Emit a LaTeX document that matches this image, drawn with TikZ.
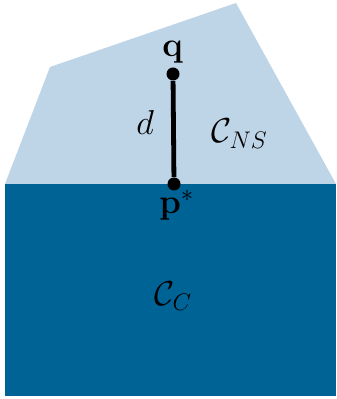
\documentclass[tikz,border=0pt]{standalone}
\usepackage{amsmath,amssymb}
\definecolor{lightreg}{RGB}{190,212,231}
\definecolor{darkreg}{RGB}{0,99,150}
\begin{document}
\begin{tikzpicture}[x=0.5pt,y=-0.5pt,
  lbl/.style={inner sep=0pt,anchor=base west,font=\fontsize{17.5}{21}\selectfont},
  dotpt/.style={circle,fill=black,inner sep=0pt,minimum size=6.5pt}]
\useasboundingbox (0,0) rectangle (336,399);
\fill[lightreg] (5,184) -- (50,67) -- (236,3) -- (336,184) -- cycle;
\fill[darkreg] (5,184) rectangle (336,396);
\node[dotpt] (q) at (173,74) {};
\node[dotpt] (p) at (174,184) {};
\draw[line width=2.4pt] (q) -- (p);
\node[lbl] (ql) at (162,57) {$\mathbf{q}$};
\node[lbl] (pl) at (159,214) {$\mathbf{p}^*$};
\node[lbl] (dl) at (136,135) {$d$};
\node[lbl] (cns) at (211,143) {$\mathcal{C}_{NS}$};
\node[lbl] (cc) at (154,305) {$\mathcal{C}_{C}$};
\end{tikzpicture}
\end{document}
